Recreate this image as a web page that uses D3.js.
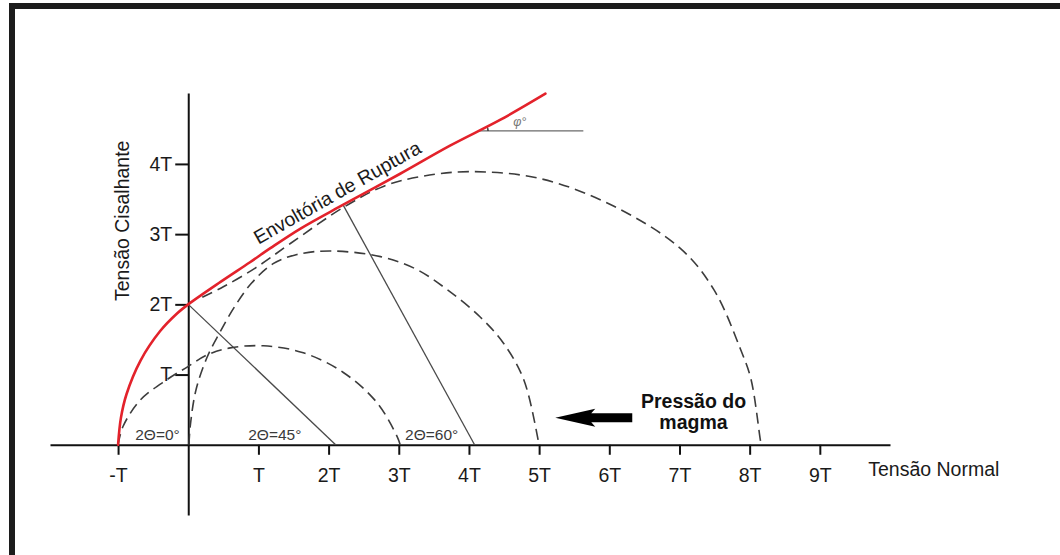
<!DOCTYPE html>
<html>
<head>
<meta charset="utf-8">
<script src="https://cdn.jsdelivr.net/npm/d3@7"></script>
<style>
  html, body { margin: 0; padding: 0; background: #ffffff; }
  svg { display: block; }
  text { font-family: "Liberation Sans", Arial, sans-serif; }
</style>
</head>
<body>
<svg id="chart" width="1060" height="555"></svg>
<script>
// ---- data (in units of T) ----
const sigmaTicks  = [-1, 1, 2, 3, 4, 5, 6, 7, 8, 9];
const sigmaLabels = ["-T", "T", "2T", "3T", "4T", "5T", "6T", "7T", "8T", "9T"];
const tauTicks    = [1, 2, 3, 4];
const tauLabels   = ["T", "2T", "3T", "4T"];

// failure envelope (red)
const envelope = [[-1,0],[-0.96,0.38],[-0.88,0.72],[-0.68,1.2],[-0.40,1.62],[-0.16,1.87],[0,2],
  [0.46,2.32],[0.88,2.6],[1.17,2.8],[1.6,3.08],[2.21,3.42],[3.02,3.86],[3.73,4.26],[4.45,4.63],[5.09,5.0]];

// Mohr circles (dashed), traced
const circleA = [[-1.0,0],[-0.93,0.26],[-0.68,0.64],[-0.30,0.93],[-0.01,1.11],[0.27,1.28],[0.60,1.38],
  [1.07,1.41],[1.64,1.31],[2.21,1.03],[2.69,0.60],[2.98,0.11],[3.02,0]];
const circleB = [[0.01,0],[0.03,0.28],[0.11,0.78],[0.27,1.25],[0.45,1.6],[0.65,1.95],[0.9,2.3],[1.21,2.58],
  [1.55,2.71],[2.02,2.76],[2.74,2.68],[3.25,2.5],[3.69,2.21],[4.16,1.82],[4.49,1.45],[4.78,0.93],[4.99,0.05],[5.0,0]];
const circleC = [[0.2,2.1],[0.5,2.25],[0.96,2.52],[1.46,2.87],[2.21,3.38],[2.78,3.68],[3.31,3.82],[4.02,3.89],
  [5.02,3.79],[6.06,3.40],[7.02,2.79],[7.49,2.21],[7.87,1.36],[8.02,0.93],[8.16,0.03],[8.17,0]];

// radius lines (thin gray)
const radii = [ [[0,2],[2.1,0]], [[2.21,3.41],[4.08,0]] ];

// angle labels
const angleLabels = ["2\u0398=0\u00b0", "2\u0398=45\u00b0", "2\u0398=60\u00b0"];
const angleLabelSigma = [-0.755, 0.855, 3.09];

// ---- layout ----
const svg = d3.select("#chart");
const x = d3.scaleLinear().domain([-1.97, 10.0]).range([50, 890]);
const y = d3.scaleLinear().domain([-1.0, 5.01]).range([515, 93]);
const font = '"Liberation Sans", Arial, sans-serif';
const fs = 19.5;

// frame (top & left dark bars)
svg.append("rect").attr("x", 9).attr("y", 3).attr("width", 1051).attr("height", 6).attr("fill", "#1c1c1c");
svg.append("rect").attr("x", 9).attr("y", 3).attr("width", 6).attr("height", 552).attr("fill", "#1c1c1c");

// axes
const xAxis = d3.axisBottom(x)
  .tickValues(sigmaTicks)
  .tickFormat((d, i) => sigmaLabels[i])
  .tickSize(10).tickSizeOuter(0).tickPadding(13);
const gx = svg.append("g").attr("transform", `translate(0,${y(0)})`).call(xAxis);
gx.select(".domain").attr("stroke", "#111").attr("stroke-width", 2);
gx.selectAll(".tick line").attr("stroke", "#111").attr("stroke-width", 2);
gx.selectAll(".tick text").attr("font-family", font).attr("font-size", fs).attr("fill", "#1a1a1a");

const yAxis = d3.axisLeft(y)
  .tickValues(tauTicks)
  .tickFormat((d, i) => tauLabels[i])
  .tickSize(13).tickSizeOuter(0).tickPadding(3);
const gy = svg.append("g").attr("transform", `translate(${x(0)},0)`).call(yAxis);
gy.select(".domain").attr("stroke", "#111").attr("stroke-width", 2);
gy.selectAll(".tick line").attr("stroke", "#111").attr("stroke-width", 2);
gy.selectAll(".tick text").attr("font-family", font).attr("font-size", fs).attr("fill", "#1a1a1a");

const line = d3.line().x(d => x(d[0])).y(d => y(d[1])).curve(d3.curveCatmullRom.alpha(0.5));
const straight = d3.line().x(d => x(d[0])).y(d => y(d[1]));

// radius lines
svg.selectAll("path.radius").data(radii).enter().append("path")
  .attr("class", "radius").attr("d", straight)
  .attr("fill", "none").attr("stroke", "#4a4a4a").attr("stroke-width", 1.3);

// dashed circles
svg.selectAll("path.mohr").data([circleA, circleB, circleC]).enter().append("path")
  .attr("class", "mohr").attr("d", line)
  .attr("fill", "none").attr("stroke", "#3c3c3c").attr("stroke-width", 1.6)
  .attr("stroke-dasharray", "11,6");

// phi reference
const phiLine = [[4.13, 4.47], [5.63, 4.47]];
svg.append("path").attr("d", straight(phiLine)).attr("stroke", "#6a6a6a").attr("stroke-width", 1.4).attr("fill", "none");
const arc = d3.arc().innerRadius(10).outerRadius(10).startAngle(Math.PI/2 - 0.5).endAngle(Math.PI/2);
svg.append("path").attr("d", arc()).attr("transform", `translate(${x(4.13)},${y(4.47)})`)
  .attr("stroke", "#333").attr("stroke-width", 1).attr("fill", "none");
svg.append("text").attr("x", x(4.63)).attr("y", y(4.54)).text("\u03c6\u00b0")
  .attr("font-family", font).attr("font-size", 12.5).attr("font-style", "italic").attr("fill", "#777");

// envelope
svg.append("path").attr("d", line(envelope)).attr("fill", "none")
  .attr("stroke", "#e3222b").attr("stroke-width", 2.6).attr("stroke-linecap", "round");

// angle labels
svg.selectAll("text.ang").data(angleLabels).enter().append("text")
  .attr("class", "ang")
  .attr("x", (d, i) => x(angleLabelSigma[i])).attr("y", y(0.07))
  .text(d => d).attr("font-family", font).attr("font-size", 15.5).attr("fill", "#3a3a3a");

// envelope label
svg.append("text").attr("transform", `translate(${x(1.0)},${y(2.85)}) rotate(-29.5)`)
  .text("Envolt\u00f3ria de Ruptura").attr("font-family", font).attr("font-size", fs).attr("fill", "#1a1a1a");

// axis titles
svg.append("text").attr("x", x(9.69)).attr("y", y(-0.44)).text("Tens\u00e3o Normal")
  .attr("font-family", font).attr("font-size", fs).attr("fill", "#1a1a1a");
svg.append("text").attr("transform", `translate(${x(-0.85)},${y(3.19)}) rotate(-90)`)
  .attr("text-anchor", "middle").text("Tens\u00e3o Cisalhante")
  .attr("font-family", font).attr("font-size", fs).attr("fill", "#1a1a1a");

// magma pressure annotation
const g = svg.append("g").attr("font-family", font).attr("font-size", fs).attr("font-weight", "bold").attr("fill", "#111").attr("text-anchor", "middle");
g.append("text").attr("x", x(7.2)).attr("y", y(0.53)).text("Press\u00e3o do");
g.append("text").attr("x", x(7.2)).attr("y", y(0.23)).text("magma");

const tipX = x(5.23), tipY = y(0.385);
const arrowPts = [[0,0],[40,-9],[36,-4.5],[77,-4.5],[77,4.5],[36,4.5],[40,9]];
svg.append("polygon")
  .attr("points", arrowPts.map(p => [tipX + p[0], tipY + p[1]].join(",")).join(" "))
  .attr("fill", "#000");
</script>
</body>
</html>
